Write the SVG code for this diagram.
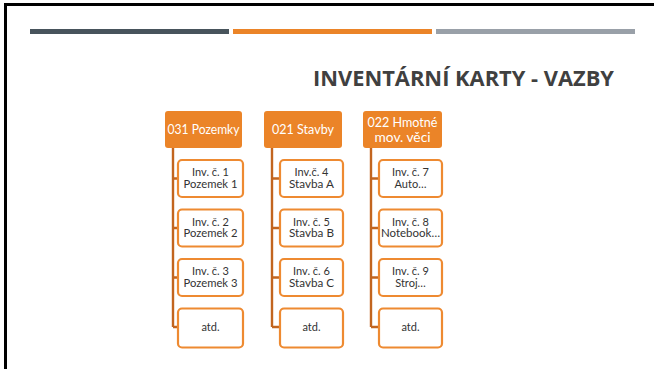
<svg xmlns="http://www.w3.org/2000/svg" width="654" height="369" viewBox="0 0 654 369">
<style>
.hdr{fill:#EB8428;}
.child{fill:#fff;stroke:#EE8A31;stroke-width:2.2;}
.conn{stroke:#C2651F;stroke-width:2.4;fill:none;}
.ht{font-family:"Lato","Noto Sans",sans-serif;font-size:12.5px;fill:#fff;text-anchor:middle;font-weight:400;}
.ct{font-family:"Lato","Noto Sans",sans-serif;font-size:11px;fill:#333;text-anchor:middle;font-weight:400;}
.title{font-family:"Open Sans","Noto Sans",sans-serif;font-size:21px;font-weight:bold;fill:#404040;text-anchor:end;}
</style>
<rect width="654" height="369" fill="#fff"/>
<rect x="4" y="3" width="650" height="3" fill="#000"/>
<rect x="4" y="3" width="3" height="366" fill="#000"/>
<rect x="30" y="29" width="199" height="5" fill="#48545C"/>
<rect x="233" y="29" width="199" height="5" fill="#EB8428"/>
<rect x="436" y="29" width="199" height="5" fill="#99A0A8"/>
<text class="title" x="614" y="86" textLength="301" lengthAdjust="spacingAndGlyphs">INVENTÁRNÍ KARTY - VAZBY</text>
<g id="connectors">
<path class="conn" d="M173 148V327M173 178.5H178M173 228H178M173 277.5H178M173 327H178"/>
<path class="conn" d="M272 148V327M272 178.5H280M272 228H280M272 277.5H280M272 327H280"/>
<path class="conn" d="M371 148V327M371 178.5H379M371 228H379M371 277.5H379M371 327H379"/>
</g>
<g id="h1"><rect class="hdr" x="165" y="111" width="77" height="37" rx="3"/><text class="ht" x="203.5" y="134" textLength="72" lengthAdjust="spacingAndGlyphs">031 Pozemky</text></g>
<g id="h2"><rect class="hdr" x="264" y="111" width="78" height="37" rx="3"/><text class="ht" x="303" y="134" textLength="62" lengthAdjust="spacingAndGlyphs">021 Stavby</text></g>
<g id="h3"><rect class="hdr" x="363" y="111" width="79" height="37" rx="3"/><text class="ht" x="402.5" y="127" textLength="70" lengthAdjust="spacingAndGlyphs">022 Hmotné</text><text class="ht" x="402.5" y="141.5" textLength="56" lengthAdjust="spacingAndGlyphs">mov. věci</text></g>
<g id="c11"><rect class="child" x="178" y="160" width="65" height="37" rx="4"/><text class="ct" x="210.5" y="176">Inv. č. 1</text><text class="ct" x="210.5" y="187.5" textLength="54" lengthAdjust="spacingAndGlyphs">Pozemek 1</text></g>
<g id="c12"><rect class="child" x="178" y="209.5" width="65" height="37" rx="4"/><text class="ct" x="210.5" y="225.5">Inv. č. 2</text><text class="ct" x="210.5" y="237" textLength="54" lengthAdjust="spacingAndGlyphs">Pozemek 2</text></g>
<g id="c13"><rect class="child" x="178" y="259" width="65" height="37" rx="4"/><text class="ct" x="210.5" y="275">Inv. č. 3</text><text class="ct" x="210.5" y="286.5" textLength="54" lengthAdjust="spacingAndGlyphs">Pozemek 3</text></g>
<g id="c14"><rect class="child" x="178" y="308.5" width="65" height="39" rx="4"/><text class="ct" x="210.5" y="331">atd.</text></g>
<g id="c21"><rect class="child" x="280" y="160" width="63" height="37" rx="4"/><text class="ct" x="311.5" y="176">Inv.č. 4</text><text class="ct" x="311.5" y="187.5" textLength="45" lengthAdjust="spacingAndGlyphs">Stavba A</text></g>
<g id="c22"><rect class="child" x="280" y="209.5" width="63" height="37" rx="4"/><text class="ct" x="311.5" y="225.5">Inv. č. 5</text><text class="ct" x="311.5" y="237" textLength="45" lengthAdjust="spacingAndGlyphs">Stavba B</text></g>
<g id="c23"><rect class="child" x="280" y="259" width="63" height="37" rx="4"/><text class="ct" x="311.5" y="275">Inv. č. 6</text><text class="ct" x="311.5" y="286.5" textLength="45" lengthAdjust="spacingAndGlyphs">Stavba C</text></g>
<g id="c24"><rect class="child" x="280" y="308.5" width="63" height="39" rx="4"/><text class="ct" x="311.5" y="331">atd.</text></g>
<g id="c31"><rect class="child" x="379" y="160" width="63" height="37" rx="4"/><text class="ct" x="410.5" y="176">Inv. č. 7</text><text class="ct" x="410.5" y="187.5">Auto…</text></g>
<g id="c32"><rect class="child" x="379" y="209.5" width="63" height="37" rx="4"/><text class="ct" x="410.5" y="225.5">Inv. č. 8</text><text class="ct" x="410.5" y="237" textLength="59" lengthAdjust="spacingAndGlyphs">Notebook…</text></g>
<g id="c33"><rect class="child" x="379" y="259" width="63" height="37" rx="4"/><text class="ct" x="410.5" y="275">Inv. č. 9</text><text class="ct" x="410.5" y="286.5">Stroj…</text></g>
<g id="c34"><rect class="child" x="379" y="308.5" width="63" height="39" rx="4"/><text class="ct" x="410.5" y="331">atd.</text></g>
</svg>
